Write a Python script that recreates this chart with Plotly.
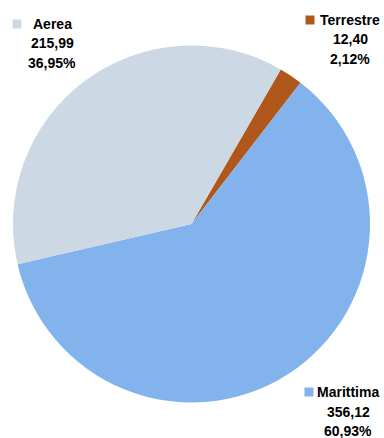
import plotly.graph_objects as go

categories = ["Terrestre", "Marittima", "Aerea"]
values = [12.40, 356.12, 215.99]
value_labels = ["12,40", "356,12", "215,99"]
pct_labels = ["2,12%", "60,93%", "36,95%"]
colors = ["#B0581C", "#82B3EC", "#CCD8E3"]

W, H = 384, 438

fig = go.Figure(go.Pie(
    labels=categories,
    values=values,
    sort=False,
    direction="clockwise",
    rotation=30,
    marker=dict(colors=colors, line=dict(width=0)),
    textinfo="none",
    hoverinfo="label+value+percent",
    domain=dict(x=[13 / W, 370 / W], y=[1 - 405 / H, 1 - 43 / H]),
    showlegend=False,
))

# label positions (pixel) for each category: text center x, first line y, square x
label_pos = {
    "Aerea": (52, 24, 17),
    "Terrestre": (350, 20, 310),
    "Marittima": (348, 392, 309),
}

font = dict(family="Liberation Sans, Arial", size=14, color="#000000")
annotations = []
shapes = []
for i, cat in enumerate(categories):
    cx, y0, sx = label_pos[cat]
    lines = [cat, value_labels[i], pct_labels[i]]
    for j, t in enumerate(lines):
        annotations.append(dict(
            x=cx / W, y=1 - (y0 + 19.5 * j) / H, xref="paper", yref="paper",
            text="<b>%s</b>" % t, showarrow=False, font=font,
            xanchor="center", yanchor="middle",
        ))
    shapes.append(dict(
        type="rect", xref="paper", yref="paper",
        x0=(sx - 4.5) / W, x1=(sx + 4.5) / W,
        y0=1 - (y0 + 4.5) / H, y1=1 - (y0 - 4.5) / H,
        fillcolor=colors[i], line=dict(width=0),
    ))

fig.update_layout(
    width=W, height=H,
    margin=dict(l=0, r=0, t=0, b=0),
    paper_bgcolor="white", plot_bgcolor="white",
    annotations=annotations, shapes=shapes,
)

fig.write_html(
    "out.html",
    config={"displayModeBar": False},
    post_script="document.body.style.margin='0';document.body.style.overflow='hidden';",
)
